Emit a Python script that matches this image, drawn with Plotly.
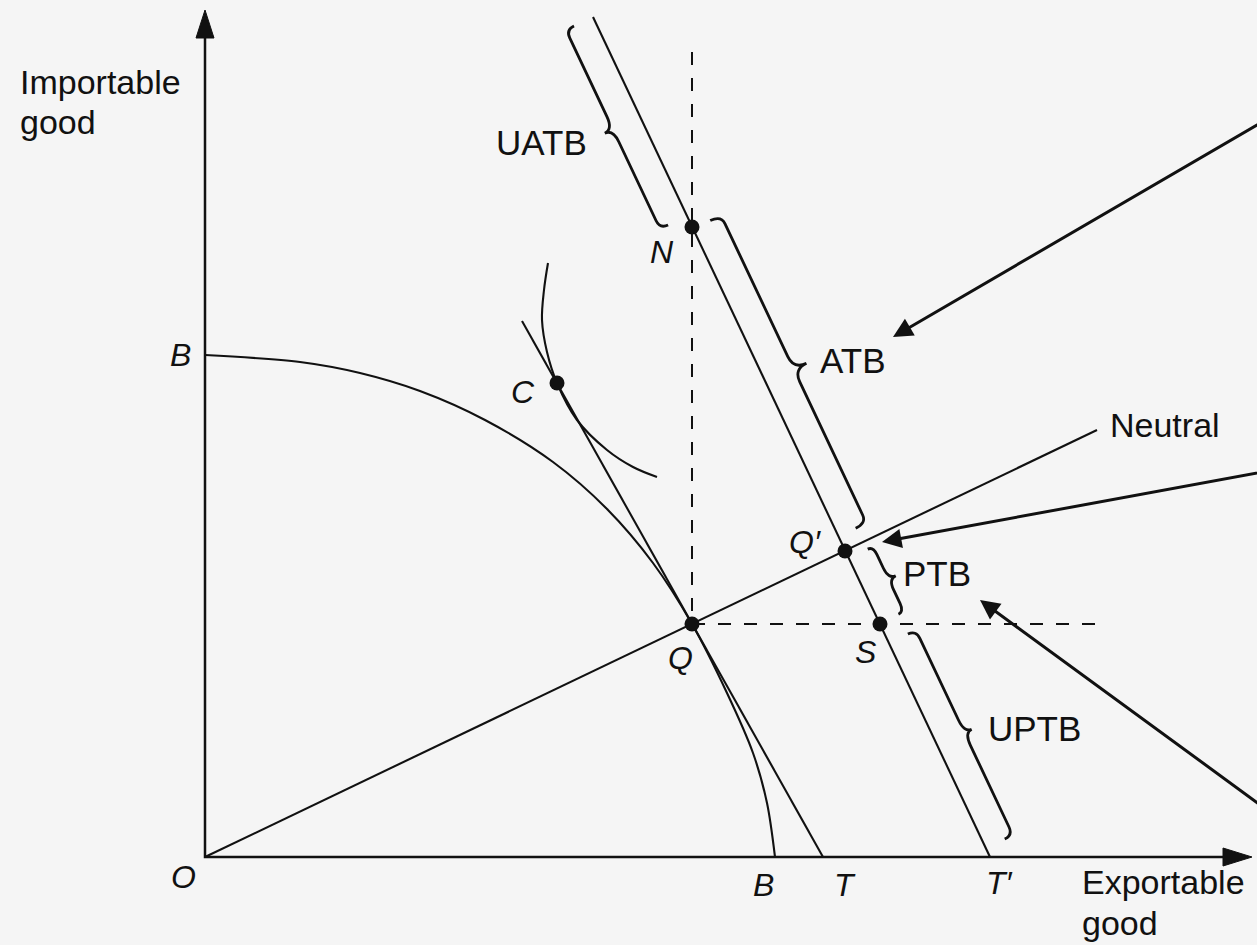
import math
import plotly.graph_objects as go

# ---------------- data (exportable good on x, importable good on y; arbitrary units) ----------------
ppf_x = [0, 95, 155, 215, 280, 348, 402, 448, 487, 522, 548, 562, 570]
ppf_y = [502, 495, 484, 466, 437, 395, 348, 294, 233, 164, 104, 54, 0]

ic_x = [343, 339, 337, 342, 352, 372, 402, 428, 452]
ic_y = [594, 567, 537, 505, 474, 437, 407, 390, 380]

tot_x = [317, 618]        # pre-growth terms-of-trade line: through C and Q down to T
tot_y = [536, 0]
tot2_x = [388, 785]       # post-growth line: through N, Q', S down to T'
tot2_y = [840, 0]
neutral_x = [0, 892]      # neutral ray from the origin through Q and Q'
neutral_y = [0, 427]

point_names = ["C", "Q", "N", "Q′", "S"]
point_x = [352, 487, 487, 640, 675]
point_y = [474, 233, 630, 306, 233]

axis_names = ["B", "B", "T", "T′", "O"]
axis_x = [0, 570, 618, 785, 0]
axis_y = [502, 0, 0, 0, 0]

dash_v_top = 805
dash_h_right = 902
x_axis_end = 1047
y_axis_end = 847

brace_labels = ["UATB", "ATB", "PTB", "UPTB"]
arrow_tips_x = [688, 677, 775]
arrow_tips_y = [520, 315, 257]
arrow_tails_x = [1088, 1090, 1080]
arrow_tails_y = [753, 391, 34]

INK = "#111111"
BG = "#f5f5f5"
SANS = "Liberation Sans, Arial, Helvetica, sans-serif"

fig = go.Figure()

# axes
fig.add_trace(go.Scatter(x=[0, 0, x_axis_end - 20], y=[y_axis_end - 20, 0, 0], mode="lines",
                         line=dict(color=INK, width=2.5), hoverinfo="skip"))

# production possibility frontier
fig.add_trace(go.Scatter(x=ppf_x, y=ppf_y, mode="lines", line=dict(color=INK, width=2.1, shape="spline", smoothing=0.9),
                         hoverinfo="skip"))
# indifference curve
fig.add_trace(go.Scatter(x=ic_x, y=ic_y, mode="lines", line=dict(color=INK, width=2.1, shape="spline", smoothing=1.0),
                         hoverinfo="skip"))
# straight lines
for xs, ys in [(tot_x, tot_y), (tot2_x, tot2_y), (neutral_x, neutral_y)]:
    fig.add_trace(go.Scatter(x=xs, y=ys, mode="lines", line=dict(color=INK, width=2.1), hoverinfo="skip"))

# dashed guides through Q
qx, qy = point_x[1], point_y[1]
fig.add_trace(go.Scatter(x=[qx, qx], y=[dash_v_top, qy], mode="lines",
                         line=dict(color=INK, width=2, dash="13px,13px"), hoverinfo="skip"))
fig.add_trace(go.Scatter(x=[qx, dash_h_right], y=[qy, qy], mode="lines",
                         line=dict(color=INK, width=2, dash="13px,13px"), hoverinfo="skip"))

# points
fig.add_trace(go.Scatter(x=point_x, y=point_y, mode="markers",
                         marker=dict(color=INK, size=15), hoverinfo="skip"))

shapes = []
# axis arrow heads
shapes.append(dict(type="path", xref="x", yref="y",
                   path=f"M -9 {y_axis_end-28} L 0 {y_axis_end} L 9 {y_axis_end-28} Z",
                   fillcolor=INK, line=dict(color=INK, width=1)))
shapes.append(dict(type="path", xref="x", yref="y",
                   path=f"M {x_axis_end-29} -9 L {x_axis_end} 0 L {x_axis_end-29} 9 Z",
                   fillcolor=INK, line=dict(color=INK, width=1)))

# curly braces along the post-growth line
x0, y0 = tot2_x[0], tot2_y[0]
dx, dy = tot2_x[1] - x0, tot2_y[1] - y0
ln = math.hypot(dx, dy)
ux, uy = dx / ln, dy / ln
nx, ny = -uy, ux   # normal pointing to the right of the line


def along(px, py):
    return (px - x0) * ux + (py - y0) * uy


u_N = along(point_x[2], point_y[2])
u_Qp = along(point_x[3], point_y[3])
u_S = along(point_x[4], point_y[4])
u_Tp = along(axis_x[3], axis_y[3])


def brace(u0, u1, side, d0, b, w):
    L = u1 - u0
    re = min(9, L / 8)
    rt = min(14, L / 6)

    def P(u, v):
        off = side * (d0 + v)
        X = x0 + (u0 + u) * ux + off * nx
        Y = y0 + (u0 + u) * uy + off * ny
        return f"{X:.2f} {Y:.2f}"
    h = L / 2
    return (f"M {P(0,0)} Q {P(0,b)} {P(re,b)} L {P(h-rt,b)} Q {P(h,b)} {P(h,w)} "
            f"Q {P(h,b)} {P(h+rt,b)} L {P(L-re,b)} Q {P(L,b)} {P(L,0)}")


brace_specs = [
    (0, u_N - 12, -1, 21, 9, 18),
    (u_N + 2, u_Qp - 16, 1, 19, 12, 26),
    (u_Qp + 8, u_S - 1, 1, 21, 6, 14),
    (u_S + 21, u_Tp - 10, 1, 21, 9, 17),
]
for spec in brace_specs:
    shapes.append(dict(type="path", xref="x", yref="y", path=brace(*spec),
                       line=dict(color=INK, width=2.8)))

annotations = []
# point labels (italic)
pt_off = [(-34, -9), (-12, -34), (-30, -25), (-40, 9), (-15, -28)]
for name, px_, py_, (ox, oy) in zip(point_names, point_x, point_y, pt_off):
    annotations.append(dict(x=px_ + ox, y=py_ + oy, xref="x", yref="y", text=name, showarrow=False,
                            font=dict(family=SANS, size=32, color=INK, style="italic"),
                            xanchor="center", yanchor="middle"))
ax_off = [(-25, 0), (-12, -28), (22, -28), (9, -26), (-22, -20)]
for name, px_, py_, (ox, oy) in zip(axis_names, axis_x, axis_y, ax_off):
    annotations.append(dict(x=px_ + ox, y=py_ + oy, xref="x", yref="y", text=name, showarrow=False,
                            font=dict(family=SANS, size=32, color=INK, style="italic"),
                            xanchor="center", yanchor="middle"))

# brace labels
brace_label_pos = [(336, 715), (647, 497), (732, 284), (829, 129)]
for name, (lx, ly) in zip(brace_labels, brace_label_pos):
    annotations.append(dict(x=lx, y=ly, xref="x", yref="y", text=name, showarrow=False,
                            font=dict(family=SANS, size=35, color=INK), xanchor="center", yanchor="middle"))

# other labels
for txt, lx, ly in [("Neutral", 903, 432), ("Importable", -187, 775), ("good", -187, 735),
                    ("Exportable", 875, -25), ("good", 875, -66)]:
    annotations.append(dict(x=lx, y=ly, xref="x", yref="y", text=txt, showarrow=False,
                            font=dict(family=SANS, size=34, color=INK), xanchor="left", yanchor="middle"))

# thick pointer arrows
for tx, ty, sx, sy in zip(arrow_tips_x, arrow_tips_y, arrow_tails_x, arrow_tails_y):
    annotations.append(dict(x=tx, y=ty, ax=sx, ay=sy, xref="x", yref="y", axref="x", ayref="y",
                            text="", showarrow=True, arrowhead=2, arrowsize=1.3, arrowwidth=3,
                            arrowcolor=INK, standoff=0))

fig.update_layout(
    width=1257, height=945,
    margin=dict(l=0, r=0, t=0, b=0),
    paper_bgcolor=BG, plot_bgcolor=BG,
    showlegend=False,
    hovermode=False,
    xaxis=dict(range=[-205, 1052], visible=False, fixedrange=True),
    yaxis=dict(range=[-88, 857], visible=False, fixedrange=True),
    shapes=shapes, annotations=annotations,
)

fig.write_html(
    "out.html",
    config={"displayModeBar": False, "staticPlot": True},
    post_script="document.body.style.margin='0';document.body.style.background='" + BG + "';",
)
